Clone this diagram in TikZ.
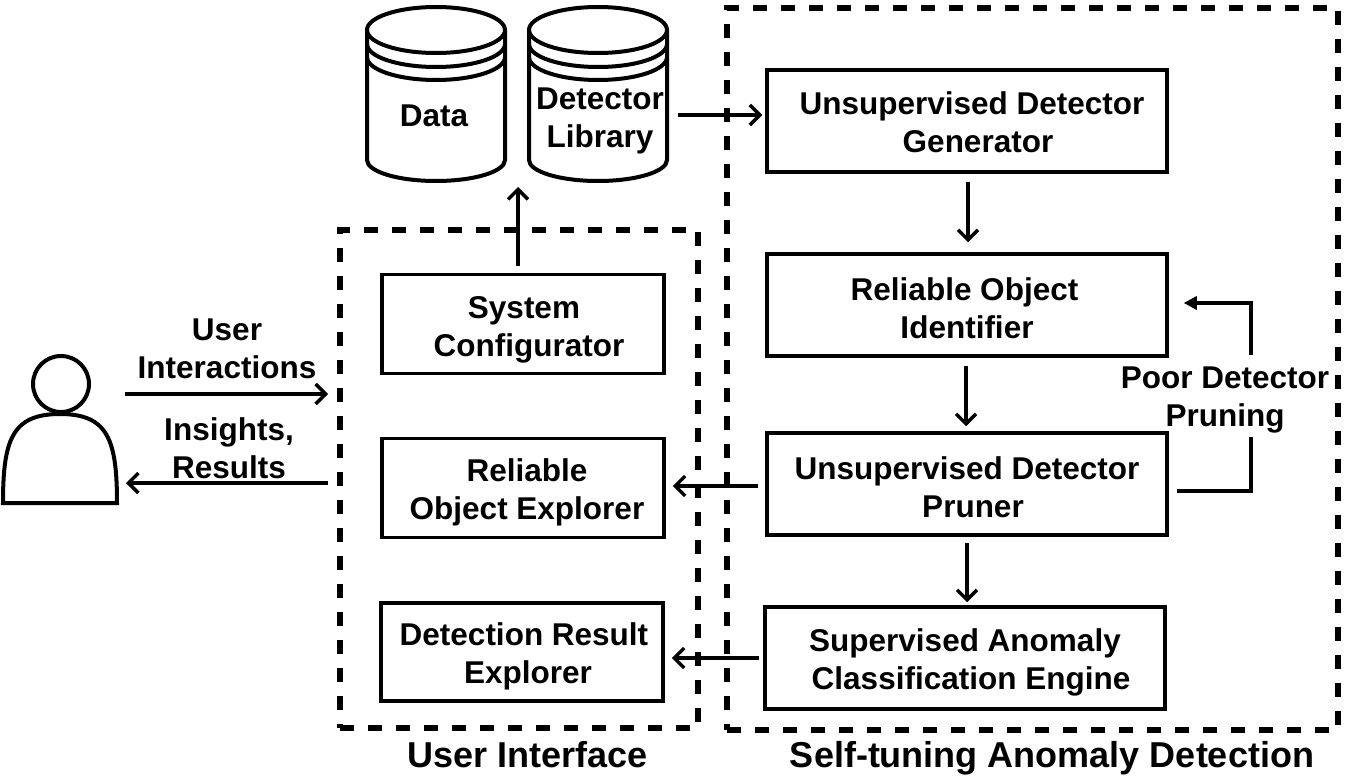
\documentclass[tikz,border=0pt]{standalone}
\usepackage{fontspec}
\setmainfont{Liberation Sans}
\usepackage{xcolor}
\usetikzlibrary{arrows.meta,positioning}
\newcommand{\lifted}[1]{\rule{0pt}{#1}}

\begin{document}
\begin{tikzpicture}[x=1pt, y=-1pt, >={Straight Barb[length=10pt,width=20pt]},
    txt/.style={font=\fontsize{31.5}{38}\selectfont\bfseries, align=center},
    block/.style={txt, draw, line width=3.5pt, minimum width=400pt, minimum height=102pt},
    uibox/.style={block, minimum width=282pt, minimum height=99pt},
    title/.style={font=\fontsize{36}{40}\selectfont\bfseries},
    frame/.style={draw, line width=6pt, dash pattern=on 14pt off 14pt},
    arr/.style={->, line width=3.5pt},
    db/.style={line width=4pt}]
  \useasboundingbox (0,0) rectangle (1345,778);
  % dashed frames
  \node[frame, minimum width=358pt, minimum height=498pt] (uiframe) at (519,479) {};
  \node[frame, minimum width=611pt, minimum height=722pt] (stframe) at (1032.5,369) {};
  % databases
  \foreach \cx in {436,598} {
    \begin{scope}[shift={(\cx,0)}]
      \draw[db] (0,30) ellipse[x radius=69, y radius=23];
      \draw[db] (-69,30) -- (-69,160) arc[start angle=180, end angle=0, x radius=69, y radius=21]
        -- (69,30);
      \draw[db] (-69,44) arc[start angle=180, end angle=0, x radius=69, y radius=23];
      \draw[db] (-69,57) arc[start angle=180, end angle=0, x radius=69, y radius=23];
    \end{scope}
  }
  \node[txt] (data) at (434,116) {Data};
  \node[txt, minimum width=139pt] (library) at (600,117) {\lifted{29pt}Detector\\Library};
  % right column
  \node[block] (gen) at (967,121) {\lifted{25pt}\hspace*{10pt}Unsupervised Detector\\\hspace*{22pt}Generator};
  \node[block] (identifier) at (967,305) {\lifted{29pt}\hspace*{-5pt}Reliable Object\\Identifier};
  \node[block] (pruner) at (967,484) {\lifted{29pt}Unsupervised Detector\\\hspace*{12pt}Pruner};
  \node[block] (engine) at (965,658) {\lifted{31pt}Supervised Anomaly\\\hspace*{12pt}Classification Engine};
  % interface column
  \node[uibox] (config) at (523,324) {\lifted{33pt}\hspace*{2pt}System\\\hspace*{12pt}Configurator};
  \node[uibox] (objexp) at (523,488) {\lifted{31pt}\hspace*{8pt}Reliable\\\hspace*{8pt}Object Explorer};
  \node[uibox, minimum height=98pt] (resexp) at (522,652) {\lifted{31pt}\hspace*{4pt}Detection Result\\\hspace*{12pt}Explorer};
  % user
  \node[draw, db, circle, minimum size=56pt, inner sep=0pt] (head) at (61,384) {};
  \draw[db] (3,503) -- (117,503) .. controls (117,440) and (108,414) .. (60,414)
    .. controls (12,414) and (3,440) .. (3,503) -- cycle;
  \coordinate (user) at (117,440);
  % labels
  \node[txt] (inlabel) at (227,349) {User\\Interactions};
  \node[txt] (outlabel) at (229,448) {Insights,\\Results};
  \node[txt] (poor) at (1225,400) {Poor Detector\\Pruning};
  \node[title] (uititle) at (528,755) {User Interface};
  \node[title] (sttitle) at (1052,758) {Self-tuning Anomaly Detection};
  % connectors
  \coordinate (inend) at (uiframe.west |- 0,394);
  \coordinate (outend) at (uiframe.west |- 0,483);
  \draw[arr] ([xshift=8pt]user |- 0,394) -- ([xshift=-9pt]inend);
  \draw[arr] ([xshift=-9pt]outend) -- ([xshift=9pt]user |- 0,483);
  \draw[arr] ([yshift=7pt]config.north -| 518,0) -- (518,187);
  \draw[arr] ([xshift=8pt,yshift=2pt]library.east) -- ([xshift=-3pt,yshift=6pt]gen.west);
  \draw[arr, shorten <=8pt, shorten >=10pt] ([xshift=1pt]gen.south) -- ([xshift=1pt]identifier.north);
  \draw[arr, shorten <=8pt, shorten >=5pt] ([xshift=-1pt]identifier.south) -- ([xshift=-1pt]pruner.north);
  \draw[arr, shorten <=6pt, shorten >=3pt] (pruner.south) -- (pruner.south |- engine.north);
  \draw[arr, shorten <=7pt, shorten >=7pt] (pruner.west |- 0,486) -- (objexp.east |- 0,486);
  \draw[arr, shorten <=4pt, shorten >=7pt] (engine.west) -- (resexp.east |- engine.west);
  \draw[line width=3.5pt] ([xshift=8pt,yshift=-7pt]pruner.east) -| ([xshift=26pt]poor.south);
  \draw[line width=3.5pt, -{Triangle[length=13pt,width=13pt]}] ([xshift=26pt,yshift=8pt]poor.north)
    |- ([xshift=15pt,yshift=2pt]identifier.east);
\end{tikzpicture}
\end{document}
